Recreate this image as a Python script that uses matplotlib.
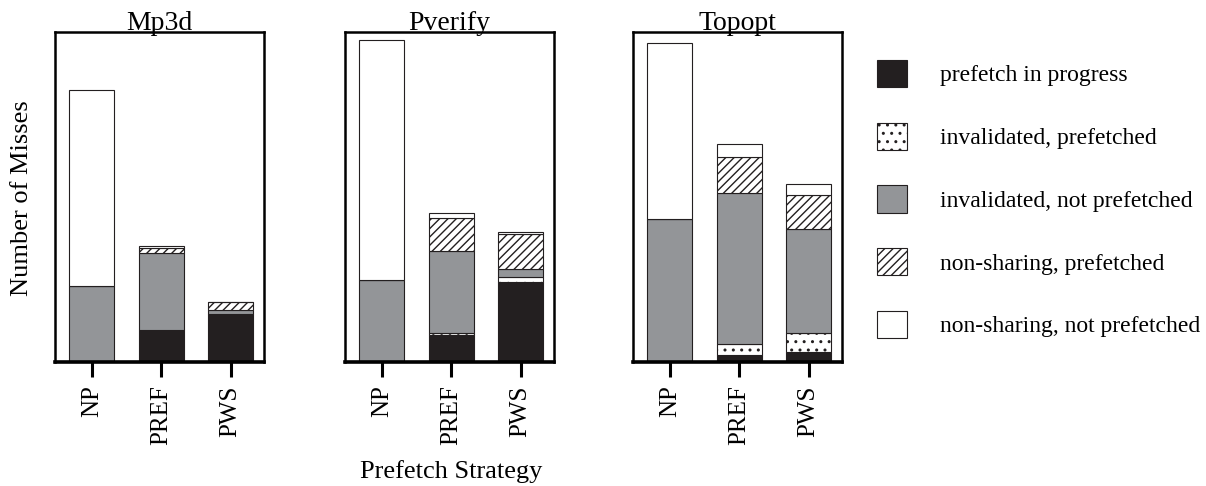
import matplotlib.pyplot as plt
import numpy as np

plt.rcParams['font.family'] = ['Liberation Serif', 'DejaVu Serif']
plt.rcParams['hatch.linewidth'] = 1.0

benchmarks = ['Mp3d', 'Pverify', 'Topopt']
strategies = ['NP', 'PREF', 'PWS']
categories = ['prefetch in progress', 'invalidated, prefetched',
              'invalidated, not prefetched', 'non-sharing, prefetched',
              'non-sharing, not prefetched']

# misses per category, stacked bottom to top, one row per strategy (NP, PREF, PWS)
mp3d = [[0, 0, 76, 0, 196],
        [32, 0, 77, 5, 2],
        [48, 0, 4, 8, 0]]
pverify = [[0, 0, 82, 0, 240],
           [27, 2, 82, 33, 5],
           [80, 5, 8, 35, 2]]
topopt = [[0, 0, 143, 0, 176],
          [7, 11, 151, 36, 13],
          [10, 19, 104, 34, 11]]
data = [mp3d, pverify, topopt]

colors = ['#231f20', 'white', '#939598', 'white', 'white']
hatches = [None, '..', None, '////', None]

W, H = 1206, 486
fig = plt.figure(figsize=(W / 100, H / 100), dpi=100)

lefts = [55, 345, 633]
handles = []
for k, (name, vals) in enumerate(zip(benchmarks, data)):
    ax = fig.add_axes([lefts[k] / W, (H - 362) / H, 209 / W, 330 / H])
    vals = np.array(vals, dtype=float)
    x = np.arange(len(strategies))
    bottom = np.zeros(len(strategies))
    for j in range(len(categories)):
        bars = ax.bar(x, vals[:, j], 0.65, bottom=bottom, color=colors[j],
                      hatch=hatches[j], edgecolor='#231f20', linewidth=0.8,
                      label=categories[j])
        bottom += vals[:, j]
        if k == 0:
            handles.append(bars)
    ax.set_xlim(-0.53, 2.48)
    ax.set_ylim(0, 330)
    ax.set_yticks([])
    ax.set_xticks(x)
    ax.set_xticklabels(strategies, rotation=90, fontsize=18)
    ax.tick_params(axis='x', direction='out', length=11, width=2.2, pad=6)
    for s in ['left', 'right', 'top']:
        ax.spines[s].set_linewidth(1.8)
    ax.spines['bottom'].set_linewidth(2.6)
    ax.text(0.5, 1.006, name, transform=ax.transAxes, ha='center',
            va='baseline', fontsize=20)

fig.text(22 / W, 1 - 198 / H, 'Number of Misses', rotation=90,
         ha='center', va='center', fontsize=19)
fig.text(451 / W, 1 - 472 / H, 'Prefetch Strategy',
         ha='center', va='center', fontsize=19)

fig.legend(handles=handles, labels=categories, loc='upper left',
           bbox_to_anchor=(877 / W, 1 - 60 / H), frameon=False,
           fontsize=17, borderpad=0, borderaxespad=0,
           handlelength=1.27, handleheight=1.4, handletextpad=1.4,
           labelspacing=1.5)

fig.savefig('out.png', dpi=100)
